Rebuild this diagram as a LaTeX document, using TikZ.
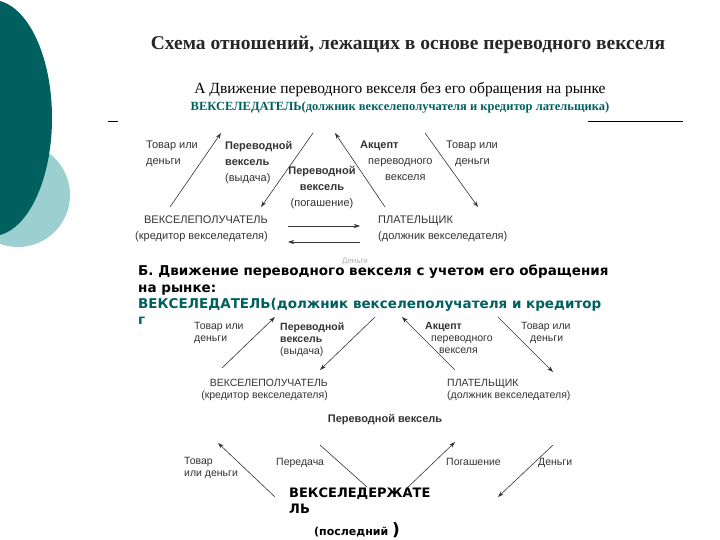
\documentclass[tikz,border=0pt]{standalone}
\usepackage{fontspec}
\setmainfont{Liberation Serif}
\setsansfont{Liberation Sans}
\newfontfamily\vfont{DejaVu Sans}
\usetikzlibrary{arrows.meta}
\definecolor{dteal}{HTML}{006060}
\definecolor{lteal}{HTML}{9CCFCF}
\definecolor{gtext}{HTML}{333333}
\begin{document}
\begin{tikzpicture}[x=1pt,y=-1pt,
  arr/.style={draw=gtext,line width=0.6pt,-{Stealth[length=6pt,width=4pt]}},
  lnk/.style={draw=gtext,line width=0.6pt},
  lab/.style={font=\sffamily\fontsize{11}{16}\selectfont,text=gtext,inner sep=0pt,align=left},
  labs/.style={font=\sffamily\fontsize{10.5}{12}\selectfont,text=gtext,inner sep=0pt,align=left},
  big/.style={font=\vfont\bfseries\fontsize{13.5}{16.5}\selectfont,inner sep=0pt,anchor=west}]
\useasboundingbox (0,0) rectangle (720,540);
\fill[white] (0,0) rectangle (720,540);
% decoration
\fill[lteal] (18,195) circle (52);
\fill[dteal] (-8,118) ellipse (60 and 118);
% titles
\node[font=\bfseries\fontsize{19.5}{21}\selectfont,text=black!85] (t) at (408,45) {Схема отношений, лежащих в основе переводного векселя};
\node[font=\fontsize{15.5}{17}\selectfont] (a) at (400,90) {А Движение переводного векселя без его обращения на рынке};
\node[font=\bfseries\fontsize{12.5}{14}\selectfont,text=dteal] (v) at (400,108) {ВЕКСЕЛЕДАТЕЛЬ(должник векселеполучателя и кредитор лательщика)};
\coordinate (l1a) at (108,121); \coordinate (l1b) at (118,121);
\coordinate (l2a) at (588,121); \coordinate (l2b) at (683,121);
\draw[line width=0.6pt] (l1a)--(l1b) (l2a)--(l2b);
% top diagram
\coordinate (p1) at (170,207); \coordinate (p2) at (221,133);
\coordinate (p3) at (313,133); \coordinate (p4) at (261,207);
\coordinate (p5) at (385,207); \coordinate (p6) at (335,133);
\coordinate (p7) at (425,133); \coordinate (p8) at (478,207);
\coordinate (h1) at (288,226); \coordinate (h2) at (360,226);
\coordinate (h3) at (360,242); \coordinate (h4) at (288,242);
\draw[arr] (p1)--(p2); \draw[arr] (p3)--(p4); \draw[arr] (p5)--(p6); \draw[arr] (p7)--(p8);
\draw[arr] (h1)--(h2); \draw[arr] (h3)--(h4);
\node[lab,anchor=north west] (ta1) at (146,141) {Товар или\\деньги};
\node[lab,anchor=north west] (ta2) at (225,141) {\textbf{Переводной}\\\textbf{вексель}\\(выдача)};
\node[lab,align=center,anchor=north] (ta3) at (322,166) {\textbf{Переводной}\\\textbf{вексель}\\(погашение)};
\node[lab,anchor=north west] (ta4) at (360,141) {\textbf{Акцепт}\\\hspace*{8pt}переводного\\\hspace*{25pt}векселя};
\node[lab,anchor=north west] (ta5) at (446,141) {Товар или\\\hspace*{9pt}деньги};
\node[lab,align=right,anchor=north east] (ta6) at (268,216) {ВЕКСЕЛЕПОЛУЧАТЕЛЬ\\(кредитор векселедателя)};
\node[lab,anchor=north west] (ta7) at (378,216) {ПЛАТЕЛЬЩИК\\(должник векселедателя)};
% section B
\node[labs,text=gray!60,anchor=center,font=\sffamily\fontsize{8}{9}\selectfont] (dg) at (355,262) {Деньги};
\node[big,anchor=north west,align=left] (b) at (138,265) {Б. Движение переводного векселя с учетом его обращения\\на рынке:};
\node[big,anchor=north west,align=left,text=dteal] (bv) at (138,298) {ВЕКСЕЛЕДАТЕЛЬ(должник векселеполучателя и кредитор\\г};
% bottom diagram
\coordinate (q1) at (222,368); \coordinate (q2) at (275,317);
\coordinate (q3) at (375,317); \coordinate (q4) at (320,370);
\coordinate (q5) at (455,370); \coordinate (q6) at (402,317);
\coordinate (q7) at (498,317); \coordinate (q8) at (553,372);
\draw[arr] (q1)--(q2); \draw[arr] (q3)--(q4); \draw[arr] (q5)--(q6); \draw[arr] (q7)--(q8);
\node[labs,anchor=north west] (tb1) at (194,322) {Товар или\\деньги};
\node[labs,anchor=north west] (tb2) at (280,322) {\textbf{Переводной}\\\textbf{вексель}\\(выдача)};
\node[labs,anchor=north west] (tb3) at (425,322) {\textbf{Акцепт}\\\hspace*{6pt}переводного\\\hspace*{14pt}векселя};
\node[labs,anchor=north west] (tb4) at (521,322) {Товар или\\\hspace*{9pt}деньги};
\node[labs,align=right,anchor=north east] (tb5) at (328,379) {ВЕКСЕЛЕПОЛУЧАТЕЛЬ\\(кредитор векселедателя)};
\node[labs,anchor=north west] (tb6) at (447,379) {ПЛАТЕЛЬЩИК\\(должник векселедателя)};
\node[labs,font=\sffamily\bfseries\fontsize{11}{12}\selectfont,anchor=center] (pv) at (385,420) {Переводной вексель};
\coordinate (r1) at (275,497); \coordinate (r2) at (218,443);
\coordinate (r3) at (320,445); \coordinate (r4) at (367,487);
\coordinate (r5) at (405,490); \coordinate (r6) at (455,442);
\coordinate (r7) at (553,445); \coordinate (r8) at (498,497);
\draw[arr] (r1)--(r2); \draw[lnk] (r3)--(r4); \draw[arr] (r5)--(r6); \draw[arr] (r7)--(r8);
\node[labs,anchor=north west] (tc1) at (184,457) {Товар\\или деньги};
\node[labs,anchor=north west] (tc2) at (276,458) {Передача};
\node[labs,anchor=north west] (tc3) at (446,458) {Погашение};
\node[labs,anchor=north west] (tc4) at (538,458) {Деньги};
\node[big,anchor=north west,align=left,font=\vfont\bfseries\fontsize{13}{16}\selectfont] (vd) at (289,488) {ВЕКСЕЛЕДЕРЖАТЕ\\ЛЬ};
\node[big,anchor=west,font=\vfont\bfseries\fontsize{11}{12}\selectfont] (ps) at (314,530) {(последний {\fontsize{17}{17}\selectfont)}};
\end{tikzpicture}
\end{document}
